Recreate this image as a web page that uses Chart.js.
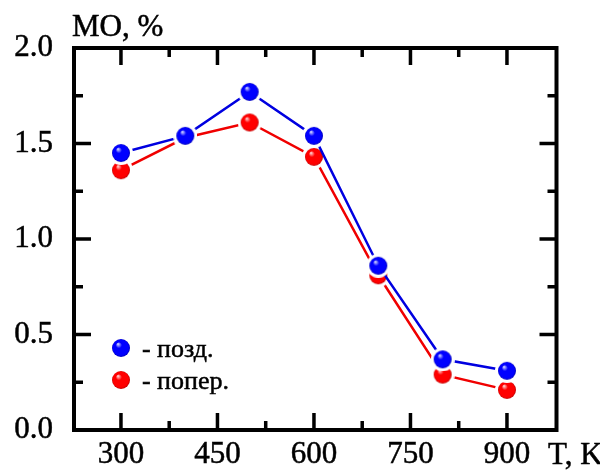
<!DOCTYPE html>
<html>
<head>
<meta charset="utf-8">
<script src="https://cdn.jsdelivr.net/npm/chart.js@4/dist/chart.umd.min.js"></script>
<style>
  html, body { margin: 0; padding: 0; background: #fff; }
  #wrap { width: 600px; height: 471px; }
</style>
</head>
<body>
<div id="wrap"><canvas id="myChart" width="600" height="471"></canvas></div>
<script>
// temperatures, K
const temps = [300, 400, 500, 600, 700, 800, 900];
// MO, % for the two directions
const pozd = [1.45, 1.54, 1.77, 1.54, 0.86, 0.37, 0.31];
const poper = [1.36, 1.53, 1.61, 1.43, 0.81, 0.29, 0.21];
const seriesNames = ['- позд.', '- попер.'];
const xTicks = [300, 450, 600, 750, 900];
const yTicks = [0, 0.5, 1.0, 1.5, 2.0];

const serif = '"Liberation Serif", "Times New Roman", serif';

// shiny ball marker with a white halo, like the original
function ball(base, light, dark) {
    const r = 9, halo = 3, size = (r + halo) * 2;
    const c = document.createElement('canvas');
    c.width = size; c.height = size;
    const g = c.getContext('2d');
    const m = size / 2;
    g.fillStyle = '#fff';
    g.beginPath(); g.arc(m, m, r + halo, 0, Math.PI * 2); g.fill();
    const grad = g.createRadialGradient(m - 3, m - 4, 0.5, m, m, r);
    grad.addColorStop(0, light);
    grad.addColorStop(0.3, base);
    grad.addColorStop(0.85, base);
    grad.addColorStop(1, dark);
    g.fillStyle = grad;
    g.beginPath(); g.arc(m, m, r, 0, Math.PI * 2); g.fill();
    return c;
}
const blueBall = ball('#0000ff', '#c8ccff', '#0000b8');
const redBall = ball('#ff0000', '#ffc8c8', '#c00000');

function pts(ys) {
    return temps.map((t, i) => ({ x: t, y: ys[i] }));
}

const frame = {
    id: 'frame',
    afterDraw(chart) {
        const ctx = chart.ctx;
        const a = chart.chartArea;
        const xs = chart.scales.x, ys = chart.scales.y;
        ctx.save();
        ctx.strokeStyle = '#000';
        ctx.lineWidth = 4;
        ctx.lineCap = 'butt';
        ctx.lineJoin = 'miter';
        ctx.beginPath();
        ctx.rect(a.left, a.top, a.right - a.left, a.bottom - a.top);
        ctx.stroke();
        const major = 17, minor = 9;
        ctx.lineWidth = 3.5;
        ctx.beginPath();
        for (let i = 0; i < xTicks.length; i++) {
            const px = xs.getPixelForValue(xTicks[i]);
            ctx.moveTo(px, a.bottom); ctx.lineTo(px, a.bottom - major);
            ctx.moveTo(px, a.top); ctx.lineTo(px, a.top + major);
            if (i < xTicks.length - 1) {
                const mx = xs.getPixelForValue((xTicks[i] + xTicks[i + 1]) / 2);
                ctx.moveTo(mx, a.bottom); ctx.lineTo(mx, a.bottom - minor);
                ctx.moveTo(mx, a.top); ctx.lineTo(mx, a.top + minor);
            }
        }
        for (let i = 0; i < yTicks.length; i++) {
            const py = ys.getPixelForValue(yTicks[i]);
            ctx.moveTo(a.left, py); ctx.lineTo(a.left + major, py);
            ctx.moveTo(a.right, py); ctx.lineTo(a.right - major, py);
            if (i < yTicks.length - 1) {
                const my = ys.getPixelForValue((yTicks[i] + yTicks[i + 1]) / 2);
                ctx.moveTo(a.left, my); ctx.lineTo(a.left + minor, my);
                ctx.moveTo(a.right, my); ctx.lineTo(a.right - minor, my);
            }
        }
        ctx.stroke();

        // axis titles
        ctx.fillStyle = '#000';
        ctx.strokeStyle = '#000';
        ctx.lineWidth = 0.5;
        ctx.textBaseline = 'alphabetic';
        ctx.textAlign = 'left';
        ctx.font = '31px ' + serif;
        ctx.fillText('MO, %', 72, 36);
        ctx.strokeText('MO, %', 72, 36);
        ctx.fillText('T, K', 548, 464);
        ctx.strokeText('T, K', 548, 464);

        // legend inside the plot
        ctx.font = '26px ' + serif;
        ctx.textBaseline = 'middle';
        const lx = xs.getPixelForValue(300);
        chart.data.datasets.forEach((ds, i) => {
            const ly = 348 + i * 32;
            const img = ds.pointStyle;
            ctx.drawImage(img, lx - img.width / 2, ly - img.height / 2);
            ctx.fillText(ds.label, lx + 21, ly + 2);
            ctx.strokeText(ds.label, lx + 21, ly + 2);
        });
        ctx.restore();
    }
};

new Chart(document.getElementById('myChart'), {
    type: 'line',
    data: {
        datasets: [
            {
                label: seriesNames[0],
                data: pts(pozd),
                borderColor: '#0000e0',
                borderWidth: 2.5,
                pointStyle: blueBall,
                pointRadius: 12,
                pointHoverRadius: 12
            },
            {
                label: seriesNames[1],
                data: pts(poper),
                borderColor: '#f00000',
                borderWidth: 2.5,
                pointStyle: redBall,
                pointRadius: 12,
                pointHoverRadius: 12
            }
        ]
    },
    options: {
        responsive: false,
        animation: false,
        layout: { padding: { left: 0, right: 43.5, top: 48, bottom: 0 } },
        plugins: {
            legend: { display: false },
            tooltip: { enabled: false }
        },
        scales: {
            x: {
                type: 'linear',
                min: 227,
                max: 977,
                afterFit(s) { s.height = 41; },
                afterBuildTicks(s) { s.ticks = xTicks.map(v => ({ value: v })); },
                grid: { display: false, drawTicks: false },
                border: { display: false },
                ticks: {
                    color: '#000',
                    textStrokeColor: '#000',
                    textStrokeWidth: 0.5,
                    font: { family: serif, size: 31 },
                    padding: 6,
                    maxRotation: 0
                }
            },
            y: {
                min: 0,
                max: 2,
                afterFit(s) { s.width = 74; },
                afterBuildTicks(s) { s.ticks = yTicks.map(v => ({ value: v })); },
                grid: { display: false, drawTicks: false },
                border: { display: false },
                ticks: {
                    color: '#000',
                    textStrokeColor: '#000',
                    textStrokeWidth: 0.5,
                    font: { family: serif, size: 31 },
                    padding: 21,
                    callback: v => v.toFixed(1)
                }
            }
        }
    },
    plugins: [frame]
});
</script>
</body>
</html>
